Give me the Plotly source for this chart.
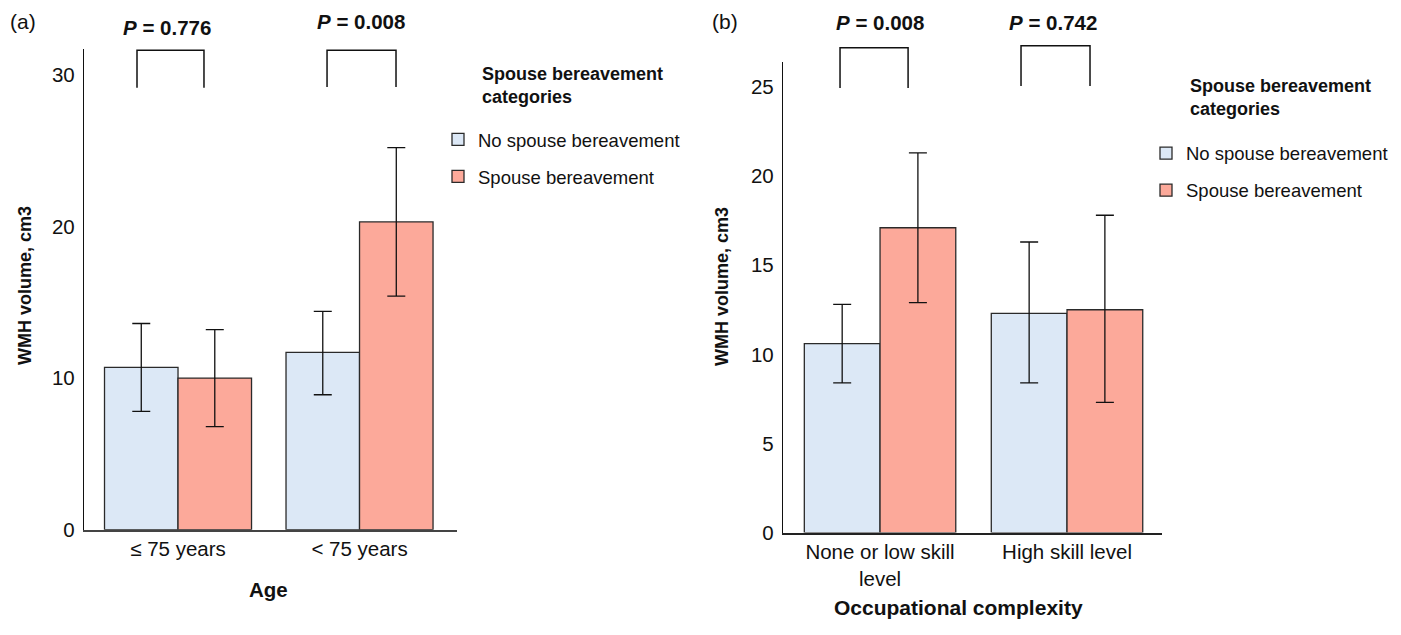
import plotly.graph_objects as go

# ---------------- data ----------------
age_categories = ["≤ 75 years", "< 75 years"]
occ_categories = ["None or low skill<br>level", "High skill level"]
series_names = ["No spouse bereavement", "Spouse bereavement"]

age_no_mean = [10.7, 11.7]
age_no_low = [7.8, 8.9]
age_no_high = [13.6, 14.4]
age_yes_mean = [10.0, 20.3]
age_yes_low = [6.8, 15.4]
age_yes_high = [13.2, 25.2]

occ_no_mean = [10.6, 12.3]
occ_no_low = [8.4, 8.4]
occ_no_high = [12.8, 16.3]
occ_yes_mean = [17.1, 12.5]
occ_yes_low = [12.9, 7.3]
occ_yes_high = [21.3, 17.8]

age_pvalues = ["0.776", "0.008"]
occ_pvalues = ["0.008", "0.742"]

# ---------------- style / layout ----------------
W, H = 1401, 635
FONT = "Liberation Sans, Arial, Helvetica, sans-serif"
BLUE = "#dce8f6"
RED = "#fca99a"
EDGE = "#2a2a2a"
TICK = 20.5

xdom_a = [84 / W, 457 / W]
ydom_a = [(H - 539) / H, (H - 50) / H]
xr_a = [-0.518, 1.537]
yr_a = [0, 31.7]

xdom_b = [783 / W, 1162 / W]
ydom_b = [(H - 542) / H, (H - 63) / H]
xr_b = [-0.519, 1.508]
yr_b = [0, 26.4]


def to_paper(v, dom, rng):
    return dom[0] + (v - rng[0]) / (rng[1] - rng[0]) * (dom[1] - dom[0])


fig = go.Figure()


def add_bars(xaxis, yaxis, legend, means, lows, highs, name, color):
    fig.add_trace(go.Bar(
        x=list(range(len(means))), y=means, name=name,
        marker=dict(color=color, line=dict(color=EDGE, width=1.3)),
        error_y=dict(type="data", symmetric=False,
                     array=[h - m for h, m in zip(highs, means)],
                     arrayminus=[m - l for l, m in zip(lows, means)],
                     color="#111", thickness=1.3, width=9),
        xaxis=xaxis, yaxis=yaxis, legend=legend, legendgroup=legend + name,
    ))


add_bars("x", "y", "legend", age_no_mean, age_no_low, age_no_high, series_names[0], BLUE)
add_bars("x", "y", "legend", age_yes_mean, age_yes_low, age_yes_high, series_names[1], RED)
add_bars("x2", "y2", "legend2", occ_no_mean, occ_no_low, occ_no_high, series_names[0], BLUE)
add_bars("x2", "y2", "legend2", occ_yes_mean, occ_yes_low, occ_yes_high, series_names[1], RED)

axis_common = dict(showgrid=False, zeroline=False, ticks="", fixedrange=True)

fig.update_layout(
    width=W, height=H,
    margin=dict(l=0, r=0, t=0, b=0),
    paper_bgcolor="white", plot_bgcolor="white",
    font=dict(family=FONT, size=18, color="#111"),
    barmode="group", bargap=0.19, bargroupgap=0,
    xaxis=dict(domain=xdom_a, range=xr_a, anchor="y", tickvals=[0, 1],
               ticktext=age_categories, showline=True, linecolor="#444",
               linewidth=2, tickfont=dict(size=TICK), **axis_common),
    yaxis=dict(domain=ydom_a, range=yr_a, anchor="x", tickvals=[0, 10, 20, 30],
               showline=True, linecolor="#111", linewidth=1.3,
               tickfont=dict(size=TICK), ticklabelstandoff=4, **axis_common),
    xaxis2=dict(domain=xdom_b, range=xr_b, anchor="y2", tickvals=[0, 1],
                ticktext=occ_categories, showline=True, linecolor="#222",
                linewidth=2, tickfont=dict(size=TICK), **axis_common),
    yaxis2=dict(domain=ydom_b, range=yr_b, anchor="x2",
                tickvals=[0, 5, 10, 15, 20, 25], showline=True,
                linecolor="#111", linewidth=1.3, tickfont=dict(size=TICK),
                ticklabelstandoff=4, **axis_common),
    legend=dict(x=438 / W, y=(H - 123) / H, xanchor="left", yanchor="top",
                font=dict(size=18.5), traceorder="grouped", tracegroupgap=10,
                bgcolor="rgba(0,0,0,0)"),
    legend2=dict(x=1146 / W, y=(H - 137) / H, xanchor="left", yanchor="top",
                 font=dict(size=18.5), traceorder="grouped", tracegroupgap=10,
                 bgcolor="rgba(0,0,0,0)"),
)

ann = []
shapes = []


def label(text, px, py, size, **kw):
    d = dict(text=text, x=px / W, y=(H - py) / H, xref="paper", yref="paper",
             xanchor="center", yanchor="middle", showarrow=False,
             font=dict(size=size))
    d.update(kw)
    ann.append(d)


# panel labels
label("(a)", 8, 22, 21, xanchor="left")
label("(b)", 710, 22, 21, xanchor="left")

# axis titles
label("<b>WMH volume, cm3</b>", 25, 291, 18, textangle=-90)
label("<b>WMH volume, cm3</b>", 722, 292, 18, textangle=-90)
label("<b>Age</b>", 268, 600, 20.5)
label("<b>Occupational complexity</b>", 958, 618, 21)

# legend titles
label("<b>Spouse bereavement<br>categories</b>", 480, 63, 18,
      xanchor="left", yanchor="top", align="left")
label("<b>Spouse bereavement<br>categories</b>", 1188, 75, 18,
      xanchor="left", yanchor="top", align="left")

# significance brackets: (x_left, x_right, y_top, y_bottom) in data units
age_brackets = [(-0.226, 0.143, 31.63, 29.16), (0.821, 1.201, 31.63, 29.2)]
occ_brackets = [(-0.214, 0.150, 27.2, 24.94), (0.754, 1.123, 27.3, 25.05)]
age_ptext = [(-0.06, 33.1), (1.01, 33.55)]
occ_ptext = [(0.0, 28.6), (0.925, 28.6)]


def add_brackets(brackets, ptexts, pvals, xdom, ydom, xr, yr):
    for (xl, xrt, yt, yb), (px, py), pv in zip(brackets, ptexts, pvals):
        X1, X2 = to_paper(xl, xdom, xr), to_paper(xrt, xdom, xr)
        YT, YB = to_paper(yt, ydom, yr), to_paper(yb, ydom, yr)
        shapes.append(dict(type="path", xref="paper", yref="paper",
                           path=f"M{X1},{YB} L{X1},{YT} L{X2},{YT} L{X2},{YB}",
                           line=dict(color="#111", width=1.5)))
        ann.append(dict(text=f"<b><i>P</i> = {pv}</b>",
                        x=to_paper(px, xdom, xr), y=to_paper(py, ydom, yr),
                        xref="paper", yref="paper", xanchor="center",
                        yanchor="middle", showarrow=False, font=dict(size=20.5)))


add_brackets(age_brackets, age_ptext, age_pvalues, xdom_a, ydom_a, xr_a, yr_a)
add_brackets(occ_brackets, occ_ptext, occ_pvalues, xdom_b, ydom_b, xr_b, yr_b)

fig.update_layout(annotations=ann, shapes=shapes)

fig.write_html("out.html", config={"displayModeBar": False},
               post_script="document.body.style.margin='0';")
